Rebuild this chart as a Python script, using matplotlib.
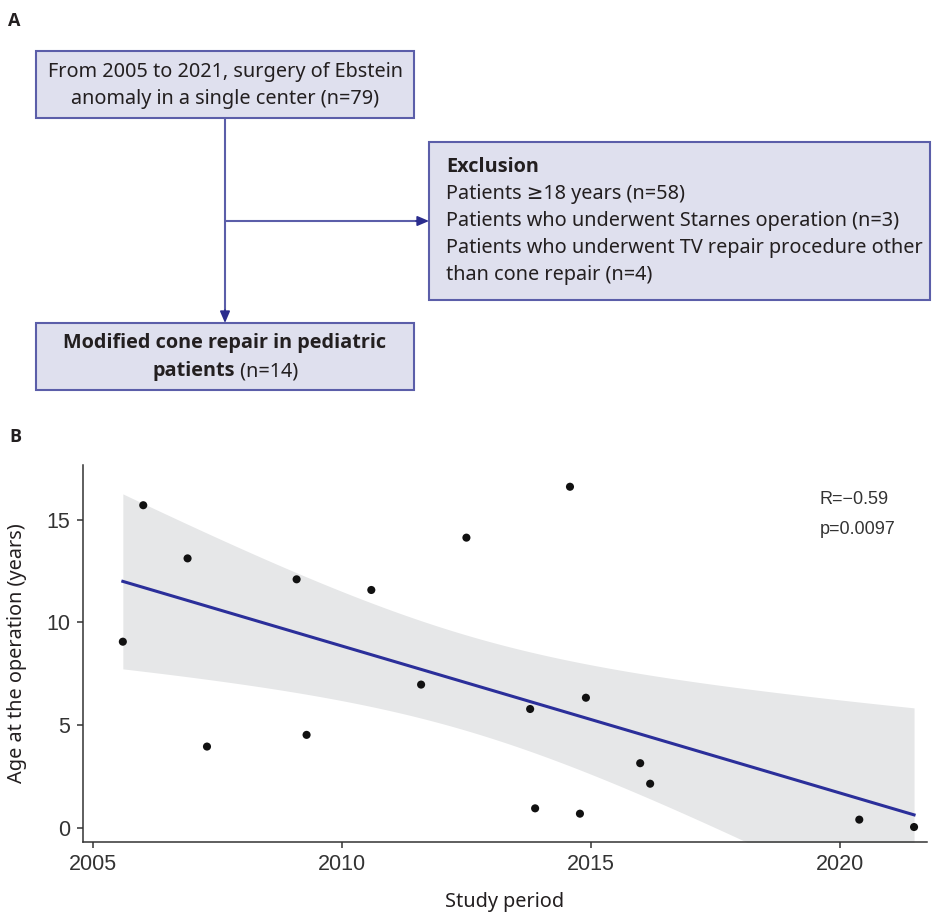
import numpy as np
import matplotlib
matplotlib.use("Agg")
import matplotlib.pyplot as plt
from matplotlib.patches import Rectangle

# data (panel B)
year = np.array([2005.60, 2006.01, 2006.90, 2007.29, 2009.09, 2009.29, 2010.59, 2011.59,
                 2012.50, 2013.78, 2013.88, 2014.58, 2014.78, 2014.90, 2015.99, 2016.19,
                 2020.39, 2021.49])
age = np.array([9.06, 15.71, 13.12, 3.95, 12.10, 4.52, 11.58, 6.97,
                14.13, 5.78, 0.94, 16.61, 0.68, 6.33, 3.14, 2.14,
                0.39, 0.03])
xticks = [2005, 2010, 2015, 2020]
yticks = [0, 5, 10, 15]
stat_lines = ["R=\u22120.59", "p=0.0097"]

# flowchart texts (panel A)
top_lines = ["From 2005 to 2021, surgery of Ebstein", "anomaly in a single center (n=79)"]
excl_title = "Exclusion"
excl_lines = ["Patients \u226518 years (n=58)",
              "Patients who underwent Starnes operation (n=3)",
              "Patients who underwent TV repair procedure other",
              "than cone repair (n=4)"]
final_bold = ["Modified cone repair in pediatric", "patients"]
final_rest = " (n=14)"

W, H = 933, 916
fig = plt.figure(figsize=(W / 100, H / 100), dpi=100)

box_fill = "#dfe0ee"
box_edge = "#5b5ea9"
line_col = "#5b5ea9"
head_col = "#2b2d8e"
txt_col = "#231f20"
fa = ["Noto Sans", "DejaVu Sans"]
fb = ["Open Sans", "Noto Sans", "DejaVu Sans"]

# ---- panel A: flowchart in pixel coordinates
axa = fig.add_axes([0, 0, 1, 1])
axa.set_xlim(0, W)
axa.set_ylim(H, 0)
axa.axis("off")

def box(x0, y0, x1, y1):
    axa.add_patch(Rectangle((x0, y0), x1 - x0, y1 - y0, facecolor=box_fill,
                            edgecolor=box_edge, lw=1.5))

box(36, 51, 414, 118)
box(429, 142, 930, 300)
box(36, 323, 414, 390)

axa.plot([225, 225], [118, 316], color=line_col, lw=1.5, solid_capstyle="butt")
axa.plot([225, 422], [221, 221], color=line_col, lw=1.5, solid_capstyle="butt")
axa.annotate("", xy=(225, 323), xytext=(225, 310),
             arrowprops=dict(arrowstyle="-|>,head_length=0.7,head_width=0.3",
                             color=head_col, lw=1.2, shrinkA=0, shrinkB=0))
axa.annotate("", xy=(429, 221), xytext=(416, 221),
             arrowprops=dict(arrowstyle="-|>,head_length=0.7,head_width=0.3",
                             color=head_col, lw=1.2, shrinkA=0, shrinkB=0))

fs = 14.3
for i, t in enumerate(top_lines):
    axa.text(225, 72 + i * 26.7, t, ha="center", va="center", fontsize=fs,
             family=fa, color=txt_col)

axa.text(446, 167, excl_title, ha="left", va="center", fontsize=fs, family=fb,
         fontweight="bold", color=txt_col)
for i, t in enumerate(excl_lines):
    axa.text(446, 194 + i * 26.9, t, ha="left", va="center", fontsize=fs,
             family=fa, color=txt_col)

axa.text(225, 343, final_bold[0], ha="center", va="center", fontsize=fs,
         family=fb, fontweight="bold", color=txt_col)
axa.text(235, 371, final_bold[1], ha="right", va="center", fontsize=fs,
         family=fb, fontweight="bold", color=txt_col)
axa.text(235, 371, final_rest, ha="left", va="center", fontsize=fs,
         family=fa, color=txt_col)

axa.text(8, 21, "A", ha="left", va="center", fontsize=13, family=fb,
         fontweight="bold", color=txt_col)
axa.text(9, 437, "B", ha="left", va="center", fontsize=13, family=fb,
         fontweight="bold", color=txt_col)

# ---- panel B: scatter with linear fit and 95% band
left, right, top, bottom = 83, 927, 465, 842
axb = fig.add_axes([left / W, (H - bottom) / H, (right - left) / W, (bottom - top) / H])
axb.patch.set_alpha(0)

n = len(year)
slope, inter = np.polyfit(year, age, 1)
xs = np.linspace(year.min(), year.max(), 200)
fit = inter + slope * xs
resid = age - (inter + slope * year)
s = np.sqrt(np.sum(resid ** 2) / (n - 2))
sxx = np.sum((year - year.mean()) ** 2)
tcrit = 2.1199  # t(0.975, df=16)
se = s * np.sqrt(1.0 / n + (xs - year.mean()) ** 2 / sxx)
axb.fill_between(xs, fit - tcrit * se, fit + tcrit * se, color="#e6e7e8", lw=0, zorder=1)
axb.plot(xs, fit, color="#2b2f9a", lw=2.2, zorder=2)
axb.scatter(year, age, s=34, color="#111111", edgecolors="none", zorder=3)

axb.set_xlim(2004.8, 2021.75)
axb.set_ylim(-0.7, 17.67)
axb.set_xticks(xticks)
axb.set_yticks(yticks)
for sp in ["top", "right"]:
    axb.spines[sp].set_visible(False)
for sp in ["left", "bottom"]:
    axb.spines[sp].set_color("#333333")
    axb.spines[sp].set_linewidth(1.1)
axb.tick_params(direction="out", length=4, width=1.1, color="#333333",
                labelsize=15.5, labelcolor="#333333", pad=5)
for lab in axb.get_xticklabels() + axb.get_yticklabels():
    lab.set_family("Liberation Sans")

axb.set_xlabel("Study period", fontsize=14.3, family=fa, color=txt_col, labelpad=12)
axb.set_ylabel("Age at the operation (years)", fontsize=14.3, family=fa,
               color=txt_col, labelpad=14)

for i, t in enumerate(stat_lines):
    axb.text(2019.6, 16.0 - i * 1.47, t, ha="left", va="center", fontsize=13,
             family="Liberation Sans", color="#333333")

fig.savefig("out.png", dpi=100)
